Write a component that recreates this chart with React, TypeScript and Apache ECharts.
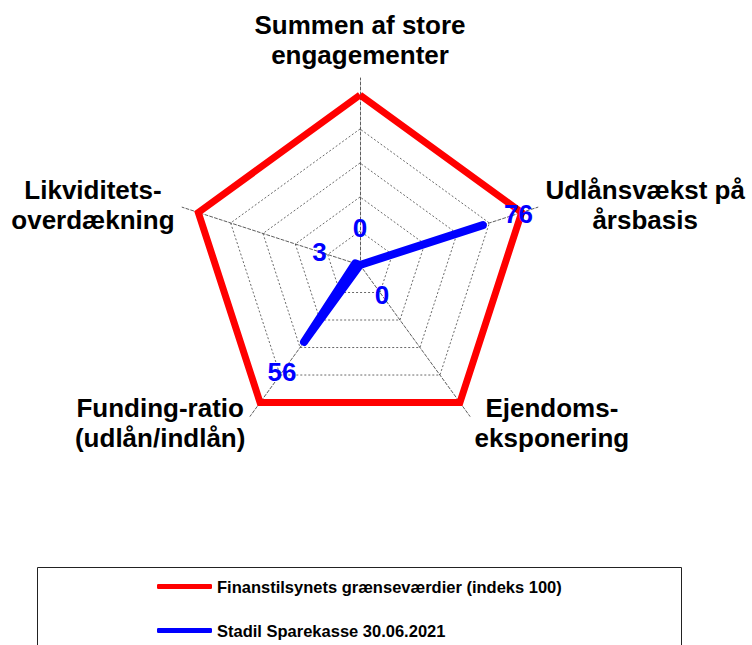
import React, { useEffect, useRef } from "react";
import * as echarts from "echarts";

const FONT = "'Liberation Sans', Arial, Helvetica, sans-serif";

// Indicators in clockwise order as in the reference, starting at the top
const indicatorNames = [
  "Summen af store\nengagementer",
  "Udlånsvækst på\nårsbasis",
  "Ejendoms-\neksponering",
  "Funding-ratio\n(udlån/indlån)",
  "Likviditets-\noverdækning",
];
const thresholdValues = [100, 100, 100, 100, 100];
const bankValues = [0, 76, 0, 56, 3];
const axisMax = 100;
const seriesNames = [
  "Finanstilsynets grænseværdier (indeks 100)",
  "Stadil Sparekasse 30.06.2021",
];
// value labels are drawn this many axis units further out than their point
const LABEL_SHIFT = 22;

// ECharts lays radar indicators out counter-clockwise; reorder to get clockwise
function ccw<T>(arr: T[]): T[] {
  return [arr[0], ...arr.slice(1).reverse()];
}

export default function App() {
  const ref = useRef<HTMLDivElement>(null);

  useEffect(() => {
    if (!ref.current) return;
    const chart = echarts.init(ref.current, undefined, { renderer: "svg" });
    const center = [360, 265];

    const option: any = {
      animation: false,
      backgroundColor: "#ffffff",
      textStyle: { fontFamily: FONT },
      radar: [
        {
          center,
          radius: 170,
          startAngle: 90,
          shape: "polygon",
          splitNumber: 5,
          nameGap: 25,
          indicator: ccw(indicatorNames).map((name) => ({ name, min: 0, max: axisMax })),
          axisName: {
            color: "#000",
            fontFamily: FONT,
            fontWeight: "bold",
            fontSize: 26,
            lineHeight: 30,
            formatter: (name: string) =>
              name
                .split("\n")
                .map((l) => `{n|${l}}`)
                .join("\n"),
            rich: {
              n: {
                align: "center",
                color: "#000",
                fontFamily: FONT,
                fontWeight: "bold",
                fontSize: 26,
                lineHeight: 30,
              },
            },
          },
          axisLine: { show: false },
          axisTick: { show: false },
          axisLabel: { show: false },
          splitLine: { lineStyle: { color: "#444", width: 0.8, type: [2, 2] } },
          splitArea: { show: false },
        },
        {
          center,
          radius: 187,
          startAngle: 90,
          shape: "polygon",
          splitNumber: 1,
          indicator: ccw(indicatorNames).map(() => ({ name: "", min: 0, max: axisMax })),
          axisName: { show: false },
          axisLine: { lineStyle: { color: "#333", width: 0.8, type: [3, 2] } },
          axisTick: { show: false },
          axisLabel: { show: false },
          splitLine: { show: false },
          splitArea: { show: false },
        },
      ],
      legend: {
        data: seriesNames,
        orient: "vertical",
        left: 152,
        top: 573,
        itemWidth: 55,
        itemHeight: 5,
        itemGap: 27,
        icon: "roundRect",
        textStyle: { fontFamily: FONT, fontSize: 16.5, fontWeight: "bold", color: "#000" },
      },
      graphic: [
        {
          type: "rect",
          z: -10,
          shape: { x: 37.5, y: 567.5, width: 644, height: 100 },
          style: { fill: "none", stroke: "#222", lineWidth: 1 },
          silent: true,
        },
      ],
      series: [
        {
          type: "radar",
          radarIndex: 0,
          name: seriesNames[0],
          symbol: "none",
          itemStyle: { color: "#ff0000" },
          lineStyle: { color: "#ff0000", width: 7, join: "miter" },
          data: [{ name: seriesNames[0], value: ccw(thresholdValues) }],
          z: 2,
        },
        {
          type: "radar",
          radarIndex: 0,
          name: seriesNames[1],
          symbol: "none",
          itemStyle: { color: "#0000ff" },
          lineStyle: { color: "#0000ff", width: 8, join: "round", cap: "round" },
          data: [{ name: seriesNames[1], value: ccw(bankValues) }],
          z: 3,
        },
        {
          type: "radar",
          radarIndex: 0,
          name: "value-labels",
          symbol: "circle",
          symbolSize: 1,
          silent: true,
          itemStyle: { color: "rgba(0,0,0,0)" },
          lineStyle: { width: 0, opacity: 0 },
          label: {
            show: true,
            position: "inside",
            color: "#0000ff",
            fontFamily: FONT,
            fontWeight: "bold",
            fontSize: 26,
            formatter: (p: any) => String(Math.round(Number(p.value) - LABEL_SHIFT)),
          },
          data: [{ name: "value-labels", value: ccw(bankValues).map((v) => v + LABEL_SHIFT) }],
          z: 4,
        },
      ],
    };

    chart.setOption(option);
    return () => chart.dispose();
  }, []);

  return (
    <div
      ref={ref}
      style={{ position: "fixed", left: 0, top: 0, width: 752, height: 645, background: "#fff" }}
    />
  );
}
